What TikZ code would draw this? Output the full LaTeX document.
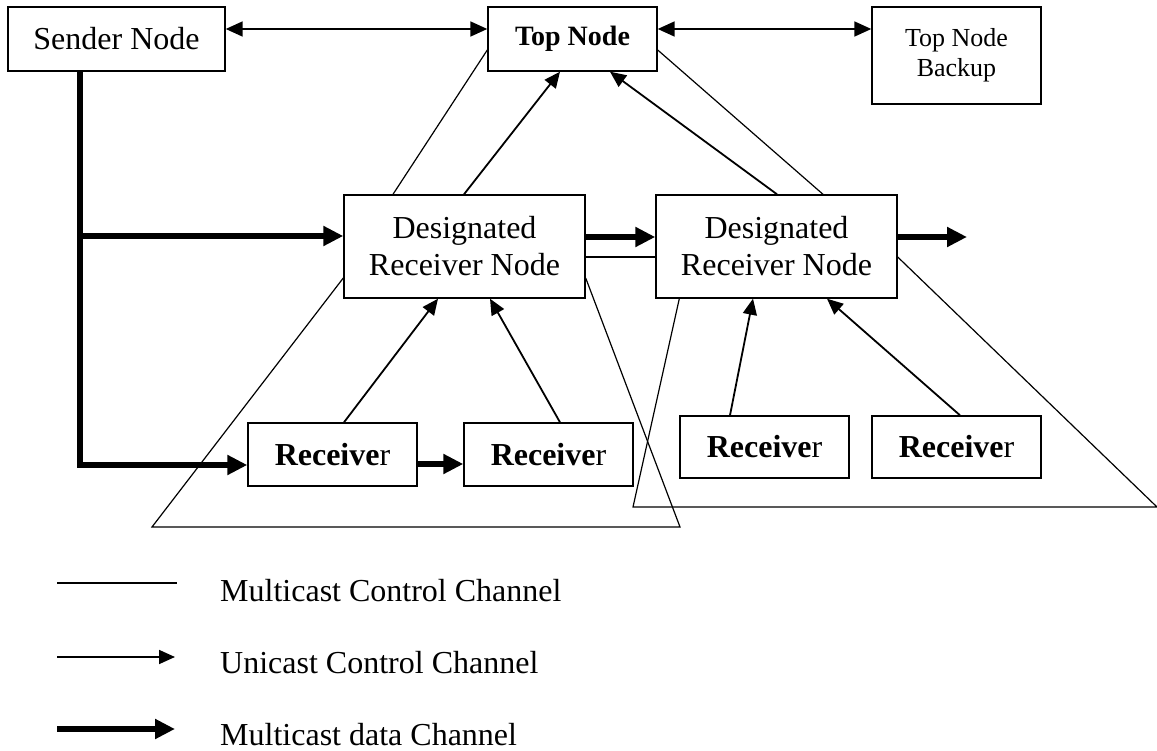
\documentclass[tikz,border=0pt]{standalone}
\usepackage{fontspec}
\setmainfont{Liberation Serif}
\usetikzlibrary{arrows.meta}
\begin{document}
\begin{tikzpicture}[x=1pt,y=-1pt,
  box/.style={draw,line width=1.4pt,inner sep=0pt,align=center,font=\fontsize{32}{37}\selectfont},
  mc/.style={line width=1.2pt},
  uc/.style={line width=1.8pt,-{Triangle[length=16pt,width=14pt]}},
  dbl/.style={line width=1.8pt,{Triangle[length=17pt,width=15pt]}-{Triangle[length=17pt,width=15pt]}},
  md/.style={line width=5.5pt,-{Triangle[length=20pt,width=19pt]}},
  lbl/.style={anchor=base west,inner sep=0pt,font=\fontsize{32}{37}\selectfont}]
\useasboundingbox (0,0) rectangle (1157,751);
% nodes
\node[box,minimum width=217pt,minimum height=64pt] (sender) at (116.5,39) {Sender Node};
\node[box,minimum width=169pt,minimum height=64pt,font=\fontsize{28}{30}\selectfont\bfseries] (top) at (572.5,39) {Top Node};
\node[box,minimum width=169pt,minimum height=97pt,font=\fontsize{26}{30}\selectfont] (backup) at (956.5,55.5) {Top Node\\Backup};
\node[box,minimum width=241pt,minimum height=103pt] (drn1) at (464.5,246.5) {Designated\\Receiver Node};
\node[box,minimum width=241pt,minimum height=103pt] (drn2) at (776.5,246.5) {Designated\\Receiver Node};
\node[box,minimum width=169pt,minimum height=63pt] (r1) at (332.5,454.5) {\textbf{Receive}r};
\node[box,minimum width=169pt,minimum height=63pt] (r2) at (548.5,454.5) {\textbf{Receive}r};
\node[box,minimum width=169pt,minimum height=62pt] (r3) at (764.5,447) {\textbf{Receive}r};
\node[box,minimum width=169pt,minimum height=62pt] (r4) at (956.5,447) {\textbf{Receive}r};
% coordinates
\coordinate (br) at (80,236);
\coordinate (out) at (967,237);
\coordinate (t1l) at (152,527);
\coordinate (t1r) at (680,527);
\coordinate (t2l) at (633,507);
\coordinate (t2r) at (1157,507);
% double arrows
\draw[dbl] ([yshift=10pt]sender.east) -- ([yshift=10pt]top.west);
\draw[dbl] ([yshift=10pt]top.east) -- ([yshift=26.5pt]backup.west);
% multicast control lines
\draw[mc] ([yshift=-11pt]top.west) -- ([xshift=-71.5pt]drn1.north);
\draw[mc] ([yshift=-11pt]top.east) -- ([xshift=46.5pt]drn2.north);
\draw[mc] ([yshift=-10.5pt]drn1.east) -- ([yshift=-10.5pt]drn2.west);
\draw[mc] ([yshift=-31.5pt]drn1.west) -- (t1l) -- (t1r) -- ([yshift=-31.5pt]drn1.east);
\draw[mc] ([xshift=24pt]drn2.south west) -- (t2l) -- (t2r) -- ([yshift=-10.5pt]drn2.east);
% unicast control
\draw[uc] ([xshift=-0.5pt]drn1.north) -- ([xshift=-12.5pt]top.south);
\draw[uc] ([xshift=0.5pt]drn2.north) -- ([xshift=37.5pt]top.south);
\draw[uc] ([xshift=11.5pt]r1.north) -- ([xshift=-26.5pt]drn1.south);
\draw[uc] ([xshift=11.5pt]r2.north) -- ([xshift=25.5pt]drn1.south);
\draw[uc] ([xshift=-34.5pt]r3.north) -- ([xshift=-23.5pt]drn2.south);
\draw[uc] ([xshift=3.5pt]r4.north) -- ([xshift=50.5pt]drn2.south);
% multicast data
\draw[md,-] ([xshift=-36.5pt]sender.south) -- (br);
\draw[md] (br) |- ([yshift=-10.5pt]r1.west);
\draw[md] (br) -- (br -| drn1.west);
\draw[md] ([yshift=9.5pt]drn1.east) -- ([yshift=9.5pt]drn2.west);
\draw[md] ([yshift=9.5pt]drn2.east) -- (out);
\draw[md] ([yshift=-9.5pt]r1.east) -- ([yshift=-9.5pt]r2.west);
% legend
\coordinate (l1a) at (57,583); \coordinate (l1b) at (177,583);
\coordinate (l2a) at (57,657); \coordinate (l2b) at (175,657);
\coordinate (l3a) at (57,729); \coordinate (l3b) at (175,729);
\draw[mc] (l1a) -- (l1b);
\draw[uc] (l2a) -- (l2b);
\draw[md] (l3a) -- (l3b);
\node[lbl] (t1) at (220,601) {Multicast Control Channel};
\node[lbl] (t2) at (220,673) {Unicast Control Channel};
\node[lbl] (t3) at (220,745) {Multicast data Channel};
\end{tikzpicture}
\end{document}
